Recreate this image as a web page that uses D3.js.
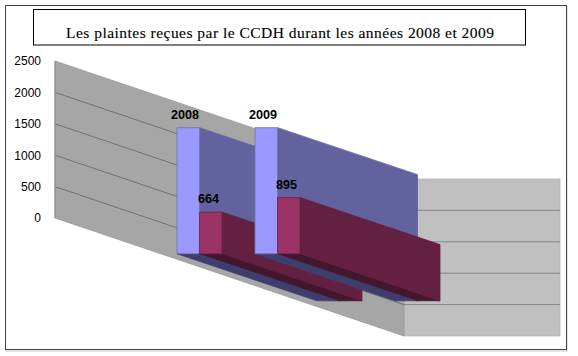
<!DOCTYPE html>
<html>
<head>
<meta charset="utf-8">
<script src="https://cdn.jsdelivr.net/npm/d3@7"></script>
<style>
html, body { margin: 0; padding: 0; background: #fff; }
svg { display: block; }
</style>
</head>
<body>
<div id="main"></div>
<script>
var categories = ["2008", "2009"];
var seriesA = [2008, 2009];
var seriesB = [664, 895];
var yTicks = [0, 500, 1000, 1500, 2000, 2500];
var titleText = "Les plaintes reçues par le CCDH durant les années 2008 et 2009";

var outerWidth = 578, outerHeight = 356;

var svg = d3.select("#main").append("svg")
    .attr("width", outerWidth)
    .attr("height", outerHeight);

// frame + title box
svg.append("rect").attr("x", 6).attr("y", 6).attr("width", 561).attr("height", 345)
    .attr("fill", "none").attr("stroke", "#c8c8c8").attr("stroke-width", 1);
svg.append("rect").attr("x", 5.5).attr("y", 5.5).attr("width", 561).attr("height", 344)
    .attr("fill", "#fff").attr("stroke", "#444").attr("stroke-width", 1);
svg.append("rect").attr("x", 33.5).attr("y", 9.5).attr("width", 492).attr("height", 35.5)
    .attr("fill", "#fff").attr("stroke", "#000").attr("stroke-width", 1);
svg.append("text")
    .attr("x", 280).attr("y", 38)
    .attr("text-anchor", "middle")
    .attr("font-family", "Liberation Serif")
    .attr("font-size", 15.5)
    .attr("textLength", 428)
    .attr("stroke", "#000").attr("stroke-width", 0.12)
    .text(titleText);

// walls, oblique projection
var wallY = d3.scaleLinear().domain([0, 2500]).range([218, 61]);
var wallX = 55, wallDx = 349, wallDy = 118;
var backRight = 560;

// bars share the value scale height but sit lower on the floor
var barY = d3.scaleLinear().domain([0, 2500]).range([253.8, 96.8]);
var barX = d3.scaleBand().domain(categories).range([177, 333]).paddingInner(0).paddingOuter(0);
var barW = 22.5, barDx = 140, barDy = 47;

var line = d3.line();

function poly(pts, fill, stroke) {
    svg.append("path")
        .attr("d", line(pts) + "Z")
        .attr("fill", fill)
        .attr("stroke", stroke || fill)
        .attr("stroke-width", 0.8)
        .attr("stroke-linejoin", "round");
}

// back wall
poly([[wallX + wallDx, wallY(2500) + wallDy], [backRight, wallY(2500) + wallDy],
      [backRight, wallY(0) + wallDy], [wallX + wallDx, wallY(0) + wallDy]], "#c0c0c0", "#b4b4b4");
yTicks.slice(1, 5).forEach(function (t) {
    svg.append("line")
        .attr("x1", wallX + wallDx).attr("x2", backRight)
        .attr("y1", wallY(t) + wallDy).attr("y2", wallY(t) + wallDy)
        .attr("stroke", "#858585").attr("stroke-width", 1);
});

// side wall
poly([[wallX, wallY(2500)], [wallX + wallDx, wallY(2500) + wallDy],
      [wallX + wallDx, wallY(0) + wallDy], [wallX, wallY(0)]], "#a6a6a6", "#999");
yTicks.slice(1, 5).forEach(function (t) {
    svg.append("line")
        .attr("x1", wallX).attr("x2", wallX + wallDx)
        .attr("y1", wallY(t)).attr("y2", wallY(t) + wallDy)
        .attr("stroke", "#707070").attr("stroke-width", 1);
});
svg.append("line")
    .attr("x1", wallX).attr("x2", wallX)
    .attr("y1", wallY(0)).attr("y2", wallY(2500))
    .attr("stroke", "#8a8a8a").attr("stroke-width", 1);

function drawBar(x, value, front, side, bottom, edge) {
    var y0 = barY(0), y1 = barY(value);
    poly([[x, y0], [x + barW, y0], [x + barW + barDx, y0 + barDy], [x + barDx, y0 + barDy]], bottom);
    poly([[x + barW, y1], [x + barW + barDx, y1 + barDy], [x + barW + barDx, y0 + barDy], [x + barW, y0]], side);
    poly([[x, y1], [x + barW, y1], [x + barW, y0], [x, y0]], front, edge);
}

categories.forEach(function (c, i) {
    var x = barX(c);
    drawBar(x, seriesA[i], "#9999ff", "#62629f", "#3e3e6c", "#74749f");
    drawBar(x + barW, seriesB[i], "#993366", "#632040", "#42172d", "#6d2448");
});

// value labels, squeezed to the narrow look of the original
function barLabel(x, y, v) {
    svg.append("text")
        .attr("x", x).attr("y", y)
        .attr("text-anchor", "middle")
        .attr("font-family", "Liberation Sans")
        .attr("font-weight", "bold")
        .attr("font-size", 13)
        .attr("textLength", String(v).length * 7)
        .attr("lengthAdjust", "spacingAndGlyphs")
        .attr("fill", "#000")
        .text(v);
}
categories.forEach(function (c, i) {
    var x = barX(c);
    barLabel(x + 8, barY(seriesA[i]) - 9, seriesA[i]);
    barLabel(x + barW + 9, barY(seriesB[i]) - 9, seriesB[i]);
});

// y axis
var yAxis = d3.axisLeft(wallY).tickValues(yTicks).tickSize(0).tickPadding(0).tickFormat(d3.format("d"));
var yAxisG = svg.append("g")
    .attr("transform", "translate(41,0)")
    .call(yAxis);
yAxisG.select(".domain").remove();
yAxisG.selectAll("text")
    .attr("font-family", "Liberation Sans")
    .attr("font-size", 12)
    .attr("fill", "#000");
</script>
</body>
</html>
